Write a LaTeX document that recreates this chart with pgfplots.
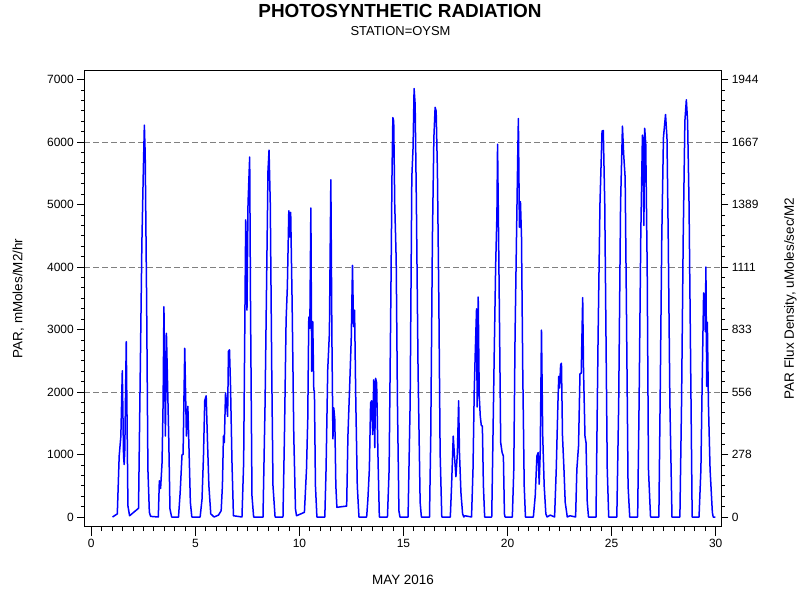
\documentclass[border=0pt]{standalone}
\usepackage{pgfplots}
\pgfplotsset{compat=1.18}
\usepackage{fontspec}
\setmainfont{Liberation Sans}
\begin{document}
\begin{tikzpicture}
\pgfplotsset{
  common/.style={
    at={(0,0)}, anchor=south west, scale only axis,
    width=637bp, height=455.3bp,
    xmin=-0.336, xmax=30.27, ymin=-144, ymax=7141,
    tick align=outside,
    ticklabel style={font=\fontsize{12}{14}\selectfont},
    /pgf/number format/assume math mode=true,
    /pgf/number format/1000 sep={},
    axis line style={black, line width=0.8pt},
    every tick/.style={black, line width=0.8pt},
  }
}
% main axis: data, grid, x ticks
\begin{axis}[common,
  clip mode=individual,
  xtick={0,5,...,30}, minor x tick num=9,
  xtick pos=bottom,
  major tick length=10bp, minor tick length=5bp,
  ytick={2000,4000,6000}, yticklabels={}, ymajorgrids,
  ytick style={draw=none},
  major grid style={gray, dash pattern=on 6bp off 3bp, line width=0.6pt},
  xlabel={MAY 2016},
  every axis x label/.style={at={(axis description cs:0.5003,-0.1186)}, anchor=center, font=\fontsize{13.5}{15}\selectfont},
  title={\textbf{PHOTOSYNTHETIC RADIATION}},
  every axis title/.style={at={(axis description cs:0.4956,1.131)}, anchor=center, font=\fontsize{19}{22}\selectfont},
]
\node[font=\fontsize{13}{15}\selectfont] at (axis description cs:0.4964,1.087) {STATION=OYSM};
\addplot[blue, line width=1.5bp, line join=round] coordinates {
(1.02,0) (1.25,50) (1.34,975) (1.42,1290) (1.49,2340) (1.55,975) (1.58,840) (1.61,1080) (1.68,2805) (1.76,180) (1.84,20)
(2.27,140) (2.34,1985) (2.43,4370) (2.50,5540) (2.55,6270) (2.59,5800) (2.66,3415) (2.72,765) (2.79,75) (2.85,10) (3.22,0)
(3.27,580) (3.33,455) (3.40,870) (3.45,1825) (3.49,3365) (3.56,1295) (3.61,2940) (3.65,2355) (3.72,1295) (3.78,130) (3.86,0)
(4.19,0) (4.27,390) (4.36,1000) (4.41,1000) (4.49,2700) (4.57,1295) (4.64,1770) (4.70,1030) (4.76,235) (4.83,0)
(5.23,0) (5.32,285) (5.39,975) (5.45,1860) (5.52,1940) (5.58,1240) (5.65,500) (5.74,50) (5.90,0) (6.11,30)
(6.24,100) (6.30,500) (6.35,1295) (6.39,1190) (6.45,1985) (6.50,1825) (6.55,1610) (6.59,2650) (6.64,2675) (6.69,2090) (6.76,870) (6.83,20) (7.24,0)
(7.32,870) (7.42,4755) (7.48,3310) (7.53,5010) (7.61,5760) (7.65,3415) (7.72,340) (7.80,0) (8.25,0)
(8.35,1825) (8.43,3945) (8.49,5540) (8.54,5870) (8.60,5010) (8.67,2355) (8.73,500) (8.83,0) (9.21,0)
(9.28,1295) (9.36,3150) (9.42,3680) (9.49,4900) (9.54,4480) (9.58,4875) (9.65,3415) (9.73,1295) (9.81,130) (9.86,20) (10.24,75)
(10.34,765) (10.40,1560) (10.45,3200) (10.50,3020) (10.55,4945) (10.59,2330) (10.64,3125) (10.69,2035) (10.72,2010) (10.77,500) (10.84,0) (11.22,0)
(11.28,765) (11.36,2355) (11.44,2940) (11.51,5395) (11.56,2885) (11.61,1250) (11.65,1745) (11.70,1560) (11.75,500) (11.80,155) (12.27,175)
(12.33,1295) (12.43,2250) (12.49,2860) (12.55,4025) (12.60,3045) (12.65,3310) (12.71,1825) (12.78,500) (12.86,0) (13.23,0)
(13.29,285) (13.36,765) (13.42,1825) (13.47,1860) (13.52,1320) (13.57,2195) (13.62,1110) (13.66,2220) (13.71,2145) (13.78,870) (13.84,0) (14.23,0)
(14.31,765) (14.39,3415) (14.45,5540) (14.49,6390) (14.53,6330) (14.58,5000) (14.62,4500) (14.65,4100) (14.71,1825) (14.78,100) (14.83,0) (15.22,0)
(15.32,1825) (15.40,5430) (15.46,5910) (15.51,6855) (15.56,6600) (15.62,5010) (15.70,2355) (15.80,235) (15.86,0) (16.25,0)
(16.31,1295) (16.39,4480) (16.46,6070) (16.52,6555) (16.57,6495) (16.63,5540) (16.70,3415) (16.76,1030) (16.84,0) (17.25,0)
(17.31,500) (17.39,1295) (17.45,975) (17.52,645) (17.59,1030) (17.65,1860) (17.69,1030) (17.76,390) (17.84,50) (17.90,0) (17.95,20) (18.27,0)
(18.34,765) (18.40,2035) (18.45,2650) (18.51,3330) (18.54,1760) (18.59,3520) (18.64,1930) (18.69,1610) (18.74,1465) (18.79,1455) (18.84,500) (18.90,0) (19.24,0)
(19.30,1295) (19.36,2620) (19.43,4050) (19.49,4850) (19.52,5965) (19.57,4480) (19.62,2885) (19.67,1190) (19.74,1030) (19.80,975) (19.85,50) (19.88,0) (20.23,0)
(20.30,765) (20.36,2885) (20.43,4480) (20.49,5800) (20.52,6375) (20.57,4635) (20.62,5045) (20.67,4480) (20.73,2355) (20.80,500) (20.86,0) (21.24,0)
(21.33,340) (21.41,975) (21.47,1030) (21.52,525) (21.57,1030) (21.63,2990) (21.69,1295) (21.76,500) (21.84,50) (21.90,0) (22.05,30) (22.26,0)
(22.34,765) (22.42,1825) (22.46,2250) (22.50,2065) (22.55,2435) (22.59,2460) (22.64,1295) (22.71,765) (22.77,235) (22.87,0) (23.00,20) (23.27,0)
(23.33,765) (23.41,1135) (23.48,2290) (23.54,2300) (23.61,3510) (23.65,2355) (23.72,1295) (23.77,1190) (23.83,235) (23.89,0) (24.25,0)
(24.35,2885) (24.44,5010) (24.54,6175) (24.60,6185) (24.67,5010) (24.73,2885) (24.79,765) (24.86,0) (25.25,0)
(25.34,1825) (25.43,5010) (25.52,6255) (25.58,5800) (25.65,5430) (25.71,3415) (25.79,500) (25.87,0) (26.25,0)
(26.32,1825) (26.40,4480) (26.48,6110) (26.51,6050) (26.55,4665) (26.59,6220) (26.64,5965) (26.71,3945) (26.77,765) (26.87,0) (27.27,0)
(27.33,1825) (27.41,4480) (27.49,6070) (27.59,6440) (27.66,6070) (27.72,4480) (27.80,1825) (27.90,0) (28.28,0)
(28.36,1825) (28.44,4480) (28.52,6335) (28.59,6675) (28.65,6335) (28.72,5010) (28.80,2355) (28.87,0) (29.20,0)
(29.29,765) (29.36,2355) (29.42,3585) (29.47,3520) (29.50,2965) (29.53,4000) (29.57,2090) (29.60,3115) (29.65,1825) (29.73,765) (29.84,75) (29.88,0) (29.98,0)
};
\end{axis}
% left y axis
\begin{axis}[common,
  axis y line*=left, axis x line=none,
  ytick={0,1000,...,7000}, minor y tick num=5,
  major tick length=7bp, minor tick length=3.5bp,
  ylabel={PAR, mMoles/M2/hr},
  every axis y label/.style={at={(axis description cs:-0.1036,0.5)}, rotate=90, anchor=center, font=\fontsize{13.5}{15}\selectfont},
]
\end{axis}
% right y axis
\begin{axis}[common,
  axis y line*=right, axis x line=none,
  ytick={0,1000,...,7000}, minor y tick num=5,
  yticklabels={0,278,556,833,1111,1389,1667,1944},
  yticklabel style={anchor=west},
  major tick length=7bp, minor tick length=3.5bp,
  ylabel={PAR Flux Density, uMoles/sec/M2},
  every axis y label/.style={at={(axis description cs:1.1083,0.5)}, rotate=90, anchor=center, font=\fontsize{13.5}{15}\selectfont},
]
\end{axis}
\pgfresetboundingbox
\useasboundingbox (-84.3bp,-74bp) rectangle (715.7bp,526bp);
\end{tikzpicture}
\end{document}
